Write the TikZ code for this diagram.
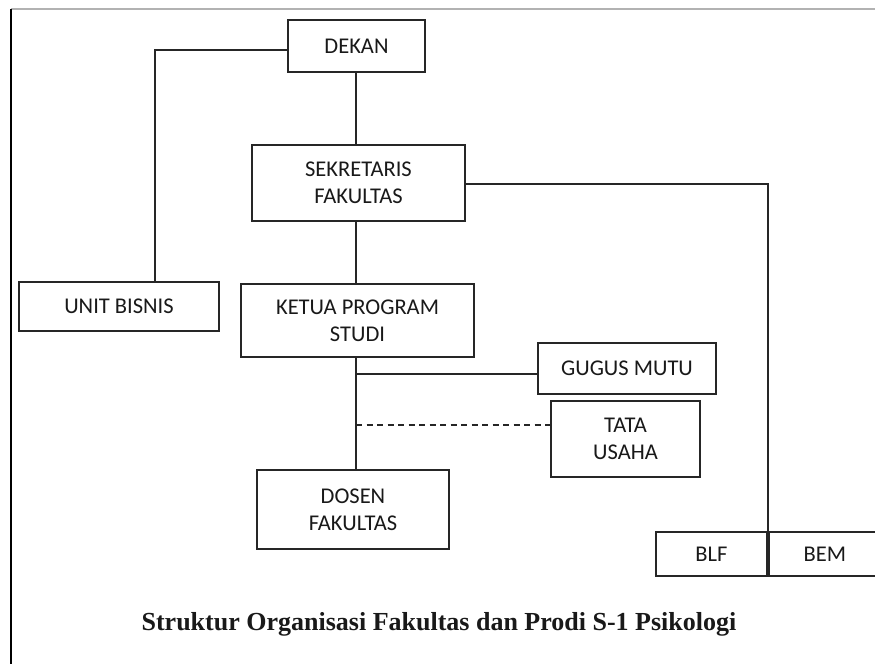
\documentclass[tikz,border=0pt]{standalone}
\usepackage{fontspec}
\setmainfont{Carlito}
\newfontfamily\titlefont{Liberation Serif}
\begin{document}
\begin{tikzpicture}[x=1pt,y=-1pt,
  box/.style={draw=black!85, line width=1.8pt, fill=white, align=center, inner sep=0pt,
    font=\fontsize{22.5}{27}\selectfont, text=black!90},
  link/.style={draw=black!85, line width=1.8pt},
  dlink/.style={draw=black!85, line width=1.5pt, dash pattern=on 6pt off 4.5pt}]
\useasboundingbox (0,0) rectangle (875,664);
\fill[white] (0,0) rectangle (875,664);
\draw[black!30, line width=2pt] (11,9) -- (875,9);
\draw[black, line width=1.5pt] (11,9) -- (11,664);

\node[box, minimum width=137pt, minimum height=52pt] (dekan) at (356.5,46) {DEKAN};
\node[box, minimum width=213pt, minimum height=76pt] (sek) at (358.5,183) {SEKRETARIS\\FAKULTAS};
\node[box, minimum width=200pt, minimum height=49pt] (unit) at (119,306.5) {UNIT BISNIS};
\node[box, minimum width=233pt, minimum height=73pt] (ketua) at (357.5,320.5) {KETUA PROGRAM\\STUDI};
\node[box, minimum width=178pt, minimum height=51pt] (gugus) at (627,368.5) {GUGUS MUTU};
\node[box, minimum width=149pt, minimum height=76pt] (tata) at (625.5,439) {TATA\\USAHA};
\node[box, minimum width=192pt, minimum height=79pt] (dosen) at (353,509.5) {DOSEN\\FAKULTAS};
\node[box, minimum width=111pt, minimum height=44pt] (blf) at (711.5,554) {BLF};
\node[box, minimum width=112pt, minimum height=44pt, anchor=west] (bem) at (blf.east) {BEM};

\coordinate (c1) at (155,50);
\draw[link] (dekan.west |- c1) -- (c1) -- (c1 |- unit.north);
\draw[link] (dekan.south -| 356,0) -- (sek.north -| 356,0);
\draw[link] (sek.south -| 356,0) -- (ketua.north -| 356,0);
\draw[link] (ketua.south -| 356,0) -- (dosen.north -| 356,0);
\coordinate (c2) at (blf.east |- 0,184);
\draw[link] (sek.east |- c2) -- (c2) -- (blf.east);
\coordinate (c3) at (356,374);
\draw[link] (c3) -- (gugus.west |- c3);
\coordinate (c4) at (356,425);
\draw[dlink] (c4) -- (tata.west |- c4);

\node[font=\titlefont\bfseries\fontsize{26}{30}\selectfont, text=black!90] (title) at (439,624) {Struktur Organisasi Fakultas dan Prodi S-1 Psikologi};
\end{tikzpicture}
\end{document}
